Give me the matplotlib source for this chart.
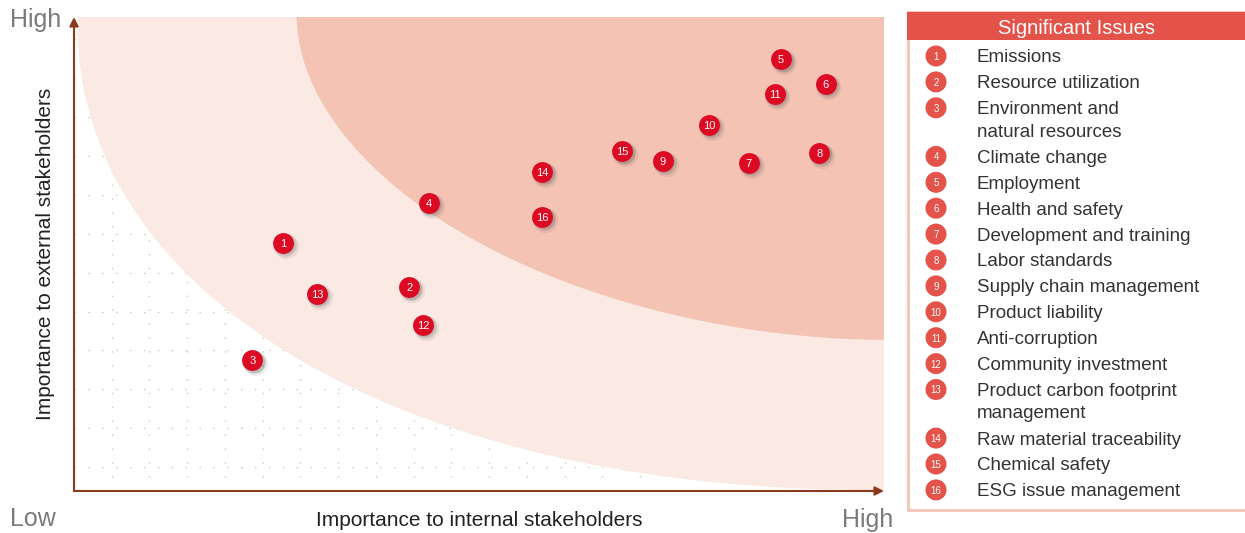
import numpy as np
import matplotlib.pyplot as plt
from matplotlib.patches import Polygon, Circle, Rectangle
from matplotlib import transforms

plt.rcParams['font.family'] = ['Liberation Sans', 'DejaVu Sans']

# ---- data -------------------------------------------------------------
issue_ids = list(range(1, 17))
issue_names = [
    "Emissions",
    "Resource utilization",
    "Environment and\nnatural resources",
    "Climate change",
    "Employment",
    "Health and safety",
    "Development and training",
    "Labor standards",
    "Supply chain management",
    "Product liability",
    "Anti-corruption",
    "Community investment",
    "Product carbon footprint\nmanagement",
    "Raw material traceability",
    "Chemical safety",
    "ESG issue management",
]
# importance to internal stakeholders (x) and external stakeholders (y), 0-10
internal = [2.58, 4.14, 2.20, 4.38, 8.73, 9.28, 8.33, 9.20, 7.27, 7.84,
            8.65, 4.31, 3.00, 5.78, 6.77, 5.78]
external = [5.23, 4.30, 2.76, 6.08, 9.11, 8.59, 6.92, 7.13, 6.96, 7.72,
            8.38, 3.50, 4.16, 6.73, 7.17, 5.78]

# ---- colours ----------------------------------------------------------
C_LIGHT = '#FAEAE3'
C_DARK = '#F4C3B4'
C_MARK = '#DC0A22'
C_LEG = '#E4534A'
C_AXIS = '#8B3A1E'
C_GREY = '#7A7A7A'
C_TEXT = '#333333'

W, H = 1245, 533
fig = plt.figure(figsize=(W / 100, H / 100), dpi=100)

# main plotting area (pixel box 74..884 x 17..491)
ax = fig.add_axes([74 / W, (H - 491) / H, 810 / W, 474 / H])
ax.set_xlim(0, 10)
ax.set_ylim(0, 10)
for s in ax.spines.values():
    s.set_visible(False)
ax.tick_params(length=0, labelbottom=False, labelleft=False)
ax.set_facecolor('white')

# dotted background grid
ax.set_xticks(np.arange(1, 22) * 0.466)
ax.set_yticks(0.506 + np.arange(0, 12) * 0.82)
ax.set_ylim(0, 10)
ax.grid(True, color='#C8C8C8', linestyle=(0, (1, 9)), linewidth=1.0, zorder=0)
ax.set_axisbelow(True)


def band(a, b, n, npts=300):
    """Superellipse quadrant anchored at the top-right corner of the plot."""
    t = np.linspace(0, np.pi / 2, npts)
    xs = 10 - a * np.cos(t) ** (2 / n)
    ys = 10 - b * np.sin(t) ** (2 / n)
    pts = np.column_stack([xs, ys])
    pts = np.vstack([pts, [10, 10]])
    return pts


ax.add_patch(Polygon(band(9.96, 9.98, 2.15), closed=True, facecolor=C_LIGHT,
                     edgecolor='none', zorder=1))
ax.add_patch(Polygon(band(7.25, 6.81, 1.9), closed=True, facecolor=C_DARK,
                     edgecolor='none', zorder=2))

# axis arrows
ax.annotate('', xy=(0, 1.0), xytext=(0, 0), xycoords='axes fraction',
            arrowprops=dict(arrowstyle='-|>', color=C_AXIS, lw=1.5,
                            mutation_scale=13, shrinkA=0, shrinkB=0),
            annotation_clip=False, zorder=5)
ax.annotate('', xy=(1.0, 0), xytext=(0, 0), xycoords='axes fraction',
            arrowprops=dict(arrowstyle='-|>', color=C_AXIS, lw=1.5,
                            mutation_scale=13, shrinkA=0, shrinkB=0),
            annotation_clip=False, zorder=5)

# markers with soft shadow
for k, (dx, dy, al, sz) in enumerate([(2.0, -2.0, 0.10, 330), (1.5, -1.5, 0.15, 270),
                                      (1.0, -1.0, 0.20, 235)]):
    tr = transforms.offset_copy(ax.transData, fig=fig, x=dx, y=dy, units='points')
    ax.scatter(internal, external, s=sz, color='#555555', alpha=al,
               linewidths=0, transform=tr, zorder=3)
ax.scatter(internal, external, s=225, color=C_MARK, linewidths=0, zorder=4)
for i, x, y in zip(issue_ids, internal, external):
    ax.text(x, y, str(i), color='white', fontsize=8, ha='center',
            va='center_baseline', zorder=6)

# ---- overlay in pixel coordinates for labels and legend --------------
ov = fig.add_axes([0, 0, 1, 1])
ov.set_xlim(0, W)
ov.set_ylim(H, 0)
ov.axis('off')

ov.text(10, 18, 'High', fontsize=18, color=C_GREY, ha='left', va='center_baseline')
ov.text(10, 516, 'Low', fontsize=18, color=C_GREY, ha='left', va='center_baseline')
ov.text(893, 518, 'High', fontsize=18, color=C_GREY, ha='right', va='center_baseline')
ov.text(479, 519, 'Importance to internal stakeholders', fontsize=15,
        color='#222222', ha='center', va='center_baseline')
ov.text(46, 254, 'Importance to external stakeholders', fontsize=15,
        color='#222222', ha='center', va='center', rotation=90)

# legend box
ov.add_patch(Rectangle((908, 12), 340, 498, facecolor='white',
                       edgecolor='#F5C4B5', linewidth=2, clip_on=False))
ov.add_patch(Rectangle((907, 12), 340, 28, facecolor=C_LEG,
                       edgecolor='none', clip_on=False))
ov.text(1077, 27, 'Significant Issues', fontsize=14.5, color='white',
        ha='center', va='center_baseline')

y = 56.0
for i, name in zip(issue_ids, issue_names):
    ov.add_patch(Circle((936, y), 10.5, facecolor=C_LEG, edgecolor='none'))
    ov.text(936, y, str(i), fontsize=7, color='white', ha='center',
            va='center_baseline')
    lines = name.split('\n')
    for j, ln in enumerate(lines):
        ov.text(977, y + 22.5 * j, ln, fontsize=13.5, color=C_TEXT,
                ha='left', va='center_baseline')
    y += 25.9 + 22.7 * (len(lines) - 1)

fig.savefig('out.png', dpi=100)
